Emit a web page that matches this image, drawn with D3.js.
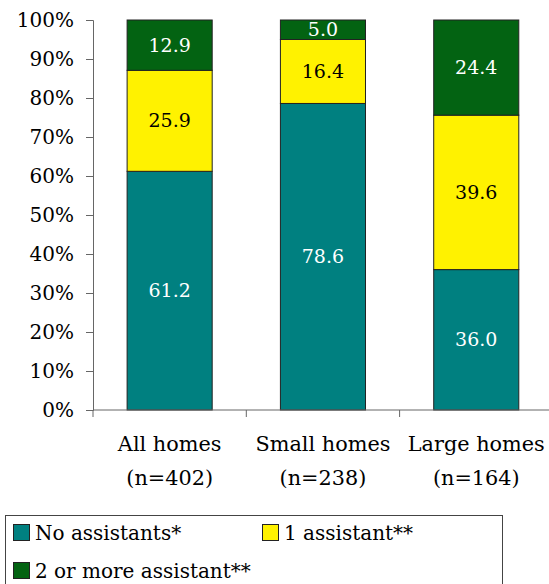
<!DOCTYPE html>
<html><head><meta charset="utf-8">
<script src="https://cdn.jsdelivr.net/npm/d3@7"></script>
<style>body{margin:0;background:#fff}svg{display:block}text{font-family:"DejaVu Serif",serif}</style>
</head><body>
<svg id="c" width="549" height="584"></svg>
<script>
const categories = ["All homes|(n=402)", "Small homes|(n=238)", "Large homes|(n=164)"];
const seriesNames = ["No assistants*", "1 assistant**", "2 or more assistant**"];
const noAssistants = [61.2, 78.6, 36.0];
const oneAssistant = [25.9, 16.4, 39.6];
const twoOrMore = [12.9, 5.0, 24.4];
const yTicks = [0, 10, 20, 30, 40, 50, 60, 70, 80, 90, 100];
const colors = ["#008080", "#fff200", "#036312"];
const labelColors = ["#fff", "#000", "#fff"];

const svg = d3.select("#c");
const mLeft = 93, mTop = 20, mBottom = 410, mRight = 93 + 3 * 153.3;
const x = d3.scaleBand().domain(categories).range([mLeft, mRight]).paddingInner(0.445).paddingOuter(0.2225);
const y = d3.scaleLinear().domain([0, 100]).range([mBottom, mTop]);

const table = categories.map((c, i) => ({cat: c, s0: noAssistants[i], s1: oneAssistant[i], s2: twoOrMore[i]}));
const stack = d3.stack().keys(["s0", "s1", "s2"])(table);

stack.forEach((layer, li) => {
  const g = svg.append("g");
  g.selectAll("rect").data(layer).join("rect")
    .attr("x", d => x(d.data.cat))
    .attr("width", x.bandwidth())
    .attr("y", d => y(d[1]))
    .attr("height", d => y(d[0]) - y(d[1]))
    .attr("fill", colors[li])
    .attr("stroke", "#222").attr("stroke-width", 1);
  g.selectAll("text").data(layer).join("text")
    .attr("x", d => x(d.data.cat) + x.bandwidth() / 2)
    .attr("y", d => (y(d[0]) + y(d[1])) / 2)
    .attr("dy", "0.35em")
    .attr("text-anchor", "middle")
    .attr("font-size", 19)
    .attr("fill", labelColors[li])
    .text(d => (d[1] - d[0]).toFixed(1));
});

// Y axis
const yAxis = svg.append("g").attr("transform", `translate(${mLeft},0)`)
  .call(d3.axisLeft(y).tickValues(yTicks).tickFormat(d => d + "%").tickSize(7).tickPadding(12));
yAxis.select(".domain").attr("stroke", "#666");
yAxis.selectAll(".tick line").attr("stroke", "#666");
yAxis.selectAll("text").attr("font-size", 20).attr("fill", "#000").attr("font-family", "DejaVu Serif");

// X axis
const xg = svg.append("g").attr("transform", `translate(0,${mBottom})`);
xg.append("line").attr("x1", mLeft).attr("x2", 549).attr("stroke", "#666");
const bounds = categories.map(c => x(c) - x.step() * x.paddingInner() / 2);
xg.selectAll("line.t").data(bounds).join("line").attr("class", "t")
  .attr("x1", d => d).attr("x2", d => d).attr("y1", 0).attr("y2", 7).attr("stroke", "#666");
categories.forEach(c => {
  const cx = x(c) + x.bandwidth() / 2;
  const parts = c.split("|");
  const t = xg.append("text").attr("text-anchor", "middle").attr("font-size", 20.8).attr("fill", "#000");
  t.append("tspan").attr("x", cx).attr("y", 41).text(parts[0]);
  t.append("tspan").attr("x", cx).attr("y", 75).text(parts[1]);
});

// Legend
const lg = svg.append("g");
lg.append("rect").attr("x", 5.5).attr("y", 515.5).attr("width", 497).attr("height", 80)
  .attr("fill", "#fff").attr("stroke", "#444");
const legPos = [[13, 524], [262, 524], [13, 562]];
seriesNames.forEach((n, i) => {
  lg.append("rect").attr("x", legPos[i][0] + 0.5).attr("y", legPos[i][1] + 0.5).attr("width", 16).attr("height", 16)
    .attr("fill", colors[i]).attr("stroke", "#222");
  lg.append("text").attr("x", legPos[i][0] + 22).attr("y", legPos[i][1] + 16)
    .attr("font-size", 20).attr("fill", "#000").text(n);
});
</script>
</body></html>
